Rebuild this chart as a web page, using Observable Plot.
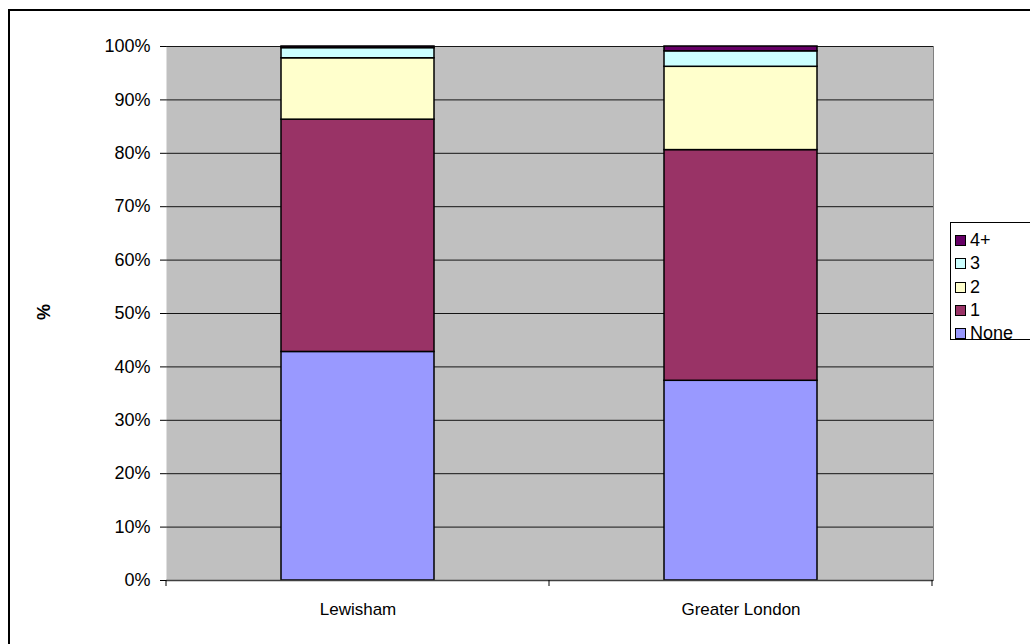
<!DOCTYPE html>
<html>
<head>
<meta charset="utf-8">
<script src="https://cdn.jsdelivr.net/npm/d3@7"></script>
<script src="https://cdn.jsdelivr.net/npm/@observablehq/plot@0.6"></script>
<style>
  html, body { margin: 0; padding: 0; width: 1030px; height: 644px; overflow: hidden; background: #fff; font-family: "Liberation Sans", Arial, sans-serif; }
  #frame { position: absolute; left: 8px; top: 9px; width: 1060px; height: 680px; border: 2px solid #000; box-sizing: border-box; }
  #chart { position: absolute; left: 0; top: 0; }
  #ylabel { position: absolute; left: 44px; top: 312px; transform: translate(-50%, -50%) rotate(-90deg); font-weight: bold; font-size: 18px; }
  #legend { position: absolute; left: 950px; top: 222px; width: 100px; height: 118px; border: 1px solid #000; box-sizing: border-box; background: #fff; }
  .item { position: absolute; left: 4px; font-size: 18px; line-height: 20px; color: #000; display: flex; align-items: center; }
  .sw { width: 9px; height: 9px; border: 1px solid #000; margin-right: 4px; }
</style>
</head>
<body>
<div id="frame"></div>
<div id="chart"></div>
<div id="ylabel">%</div>
<div id="legend"></div>
<script>
const categories = ["Lewisham", "Greater London"];
const series = ["None", "1", "2", "3", "4+"];
const colors = ["#9999FF", "#993366", "#FFFFCC", "#CCFFFF", "#660066"];
const lewisham = [42.8, 43.5, 11.5, 1.9, 0.3];
const greaterLondon = [37.4, 43.2, 15.6, 2.9, 0.9];
const yTicks = [0, 0.1, 0.2, 0.3, 0.4, 0.5, 0.6, 0.7, 0.8, 0.9, 1.0];

const rows = [];
series.forEach((s, i) => {
  rows.push({cat: categories[0], series: s, value: lewisham[i]});
});
series.forEach((s, i) => {
  rows.push({cat: categories[1], series: s, value: greaterLondon[i]});
});

const chart = Plot.plot({
  width: 1030,
  height: 644,
  marginLeft: 166,
  marginRight: 97,
  marginTop: 46,
  marginBottom: 64,
  style: {fontFamily: "'Liberation Sans', Arial, sans-serif", fontSize: "18px", color: "#000", background: "transparent"},
  x: {domain: categories, paddingInner: 0.6, paddingOuter: 0.3, label: null},
  y: {domain: [0, 1], label: null},
  color: {domain: series, range: colors},
  marks: [
    Plot.frame({fill: "#C0C0C0", stroke: null}),
    Plot.gridY(yTicks, {stroke: "#000", strokeOpacity: 0.9}),
    Plot.barY(rows, Plot.stackY({offset: "normalize", order: null}, {x: "cat", y: "value", fill: "series", stroke: "#000", strokeWidth: 1.5})),
    Plot.axisY(yTicks, {tickFormat: d => Math.round(d * 100) + "%", tickSize: 6, tickPadding: 10, stroke: "#000", fontSize: 18, label: null}),
    Plot.axisX({tickSize: 0, tickPadding: 22, fontSize: 17}),
    Plot.ruleY([0], {stroke: "#404040", strokeWidth: 1.5}),
    Plot.frame({anchor: "right", stroke: "#808080"})
  ]
});
document.getElementById("chart").appendChild(chart);

// category separator ticks below the x axis, positioned from Plot's own x scale
const xs = chart.scale("x");
const yS = chart.scale("y");
const y0 = yS.apply(0);
const half = xs.step / 2;
const bounds = [xs.apply(categories[0]) + xs.bandwidth / 2 - half];
categories.forEach(c => bounds.push(xs.apply(c) + xs.bandwidth / 2 + half));
d3.select(chart).append("g")
  .selectAll("line").data(bounds).join("line")
  .attr("x1", d => d).attr("x2", d => d)
  .attr("y1", y0).attr("y2", y0 + 6)
  .attr("stroke", "#000");

const legend = document.getElementById("legend");
const order = series.slice().reverse();
const ys = [240, 263, 287, 310, 333];
order.forEach((s, i) => {
  const item = document.createElement("div");
  item.className = "item";
  item.style.top = (ys[i] - 222 - 11) + "px";
  const sw = document.createElement("span");
  sw.className = "sw";
  sw.style.background = colors[series.indexOf(s)];
  item.appendChild(sw);
  item.appendChild(document.createTextNode(s));
  legend.appendChild(item);
});
</script>
</body>
</html>
